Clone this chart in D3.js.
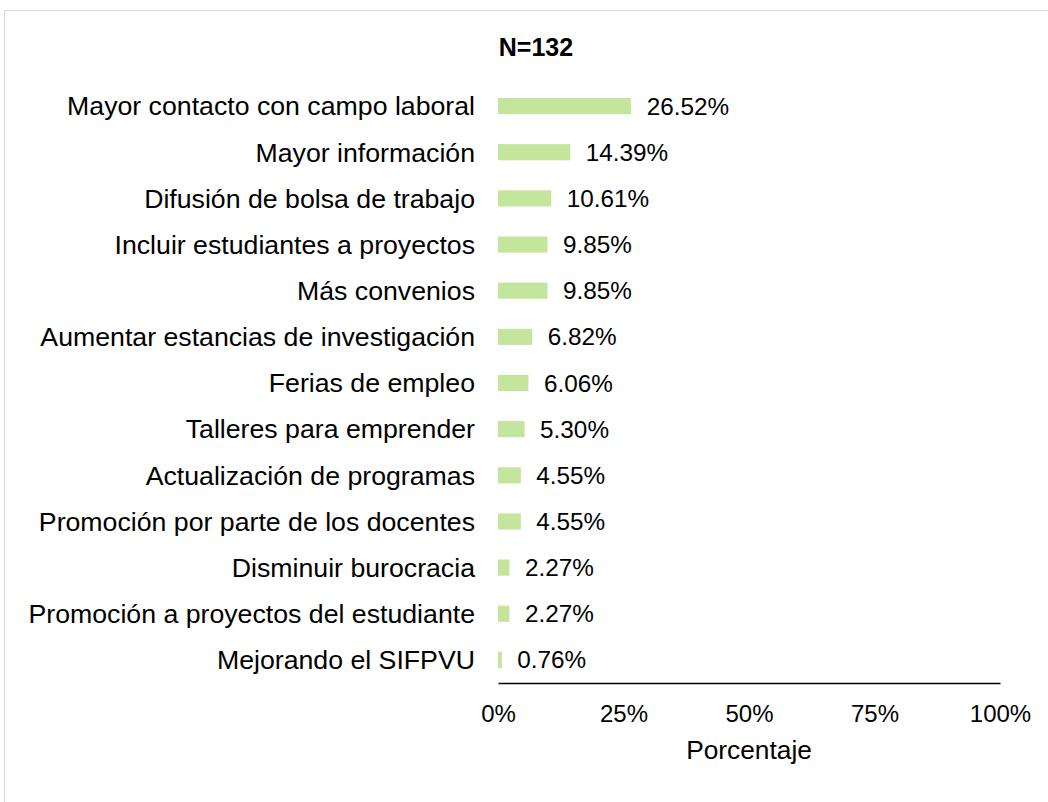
<!DOCTYPE html>
<html lang="es">
<head>
<meta charset="UTF-8">
<title>N=132</title>
<script src="https://d3js.org/d3.v7.min.js"></script>
<style>
  body { margin: 0; background: #fff; font-family: "Liberation Sans", Arial, sans-serif; }
  svg { display: block; }
</style>
</head>
<body>
<svg id="chart" width="1048" height="802"></svg>
<script>
const categories = [
  "Mayor contacto con campo laboral",
  "Mayor información",
  "Difusión de bolsa de trabajo",
  "Incluir estudiantes a proyectos",
  "Más convenios",
  "Aumentar estancias de investigación",
  "Ferias de empleo",
  "Talleres para emprender",
  "Actualización de programas",
  "Promoción por parte de los docentes",
  "Disminuir burocracia",
  "Promoción a proyectos del estudiante",
  "Mejorando el SIFPVU"
];
const values = [26.52, 14.39, 10.61, 9.85, 9.85, 6.82, 6.06, 5.30, 4.55, 4.55, 2.27, 2.27, 0.76];
const xTicks = [0, 25, 50, 75, 100];

const svg = d3.select("#chart");

// outer frame
svg.append("rect")
  .attr("x", 4.5).attr("y", 10.5)
  .attr("width", 1100).attr("height", 900)
  .attr("fill", "none").attr("stroke", "#d9d9d9").attr("stroke-width", 1);

const plotLeft = 498, plotRight = 1000, plotTop = 83, plotBottom = 683;

const x = d3.scaleLinear().domain([0, 100]).range([plotLeft, plotRight]);
const y = d3.scaleBand().domain(categories).range([plotTop, plotBottom]).paddingInner(0.65).paddingOuter(0.325);

svg.append("text")
  .attr("x", 536).attr("y", 56)
  .attr("text-anchor", "middle")
  .attr("font-size", 25).attr("font-weight", "bold")
  .text("N=132");

const rows = svg.append("g").selectAll("g")
  .data(categories)
  .join("g");

rows.append("rect")
  .attr("x", x(0))
  .attr("y", d => y(d))
  .attr("width", (d, i) => x(values[i]) - x(0))
  .attr("height", y.bandwidth())
  .attr("fill", "#c4e59c");

rows.append("text")
  .attr("x", 475)
  .attr("y", d => y(d) + y.bandwidth() / 2)
  .attr("dy", "0.35em")
  .attr("text-anchor", "end")
  .attr("font-size", 26.7)
  .attr("fill", "#000")
  .text(d => d);

rows.append("text")
  .attr("x", (d, i) => x(values[i]) + 15.5)
  .attr("y", d => y(d) + y.bandwidth() / 2)
  .attr("dy", "0.35em")
  .attr("font-size", 24.3)
  .attr("fill", "#000")
  .text((d, i) => values[i].toFixed(2) + "%");

const xAxis = d3.axisBottom(x)
  .tickValues(xTicks)
  .tickSize(0)
  .tickPadding(22)
  .tickFormat(d => d + "%");

const gx = svg.append("g")
  .attr("transform", `translate(0,${plotBottom})`)
  .call(xAxis);
gx.select(".domain").attr("stroke", "#000").attr("stroke-width", 1.3);
gx.selectAll("text").attr("font-size", 24).attr("fill", "#000")
  .attr("font-family", "\"Liberation Sans\", Arial, sans-serif");

svg.append("text")
  .attr("x", 749).attr("y", 759)
  .attr("text-anchor", "middle")
  .attr("font-size", 26.3)
  .text("Porcentaje");
</script>
</body>
</html>
